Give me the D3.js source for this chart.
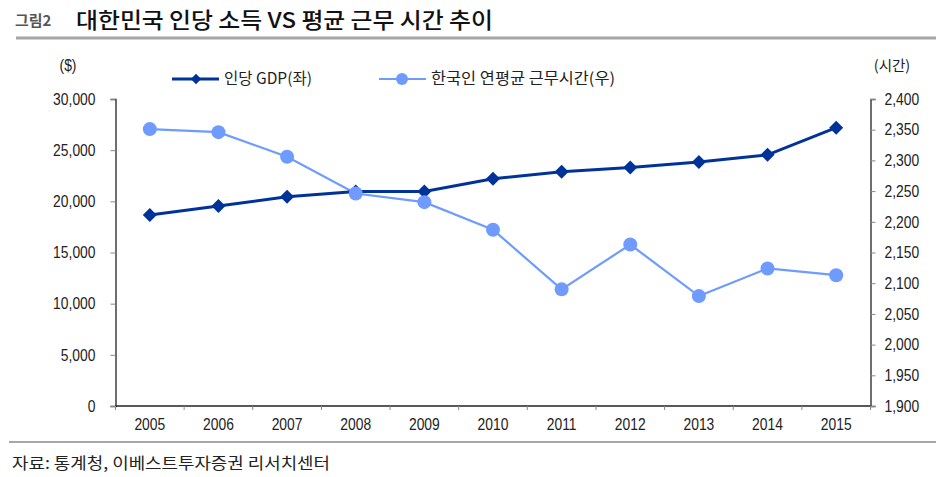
<!DOCTYPE html>
<html><head><meta charset="utf-8">
<script src="https://cdn.jsdelivr.net/npm/d3@7"></script>
<style>
body{margin:0;background:#fff;}
svg{display:block;}
text{font-family:"Liberation Sans",Arial,sans-serif;fill:#222;}
.kr{font-family:"Noto Sans CJK KR","Liberation Sans",sans-serif;}
</style></head>
<body>
<script>
const years = ["2005","2006","2007","2008","2009","2010","2011","2012","2013","2014","2015"];
const gdp = [18675,19550,20450,20950,20960,22200,22900,23300,23850,24550,27200];
const hours = [2351,2346,2306,2246,2232,2187,2090,2163,2079,2124,2113];
const leftTicks = [0,5000,10000,15000,20000,25000,30000];
const rightTicks = [1900,1950,2000,2050,2100,2150,2200,2250,2300,2350,2400];
const titleLabel = "그림2";
const titleText = "대한민국 인당 소득 VS 평균 근무 시간 추이";
const seriesNames = ["인당 GDP(좌)","한국인 연평균 근무시간(우)"];
const sourceText = "자료: 통계청, 이베스트투자증권 리서치센터";

const W=936,H=477;
const svg=d3.select("body").append("svg").attr("width",W).attr("height",H);
const m={l:115.5,r:870.5,t:99,b:406};
const darkC="#003399", lightC="#6F9BFF";
const NUMFS=16.5, SQ=0.84;
function condense(sel){
  sel.each(function(){const w=this.getComputedTextLength();
    d3.select(this).attr("textLength",w*SQ).attr("lengthAdjust","spacingAndGlyphs");});
}

// title
svg.append("text").attr("class","kr").attr("x",15).attr("y",26).attr("font-size",15).attr("font-weight","bold").style("fill","#555").text(titleLabel);
svg.append("text").attr("class","kr").attr("x",76).attr("y",28).attr("font-size",22).attr("font-weight",500)
 .attr("textLength",417).attr("lengthAdjust","spacingAndGlyphs").style("fill","#111").text(titleText);
svg.append("line").attr("x1",16).attr("x2",W).attr("y1",38).attr("y2",38).attr("stroke","#a6a6a6").attr("stroke-width",3);

const x=d3.scaleBand().domain(years).range([m.l,m.r]);
const yL=d3.scaleLinear().domain([0,30000]).range([m.b,m.t]);
const yR=d3.scaleLinear().domain([1900,2400]).range([m.b,m.t]);
const fmt=d3.format(",");

// left axis
const gL=svg.append("g").attr("transform",`translate(${m.l},0)`)
 .call(d3.axisLeft(yL).tickValues(leftTicks).tickFormat(fmt).tickSize(5).tickPadding(15));
gL.select(".domain").attr("stroke","#222").attr("stroke-width",1.3);
gL.selectAll(".tick line").attr("stroke","#888");
gL.selectAll("text").attr("font-size",NUMFS).style("font-family",'"Liberation Sans",Arial,sans-serif').style("fill","#222").call(condense);

// right axis
const gR=svg.append("g").attr("transform",`translate(${m.r},0)`)
 .call(d3.axisRight(yR).tickValues(rightTicks).tickFormat(fmt).tickSize(5).tickPadding(9));
gR.select(".domain").attr("stroke","#222").attr("stroke-width",1.3);
gR.selectAll(".tick line").attr("stroke","#888");
gR.selectAll("text").attr("font-size",NUMFS).style("font-family",'"Liberation Sans",Arial,sans-serif').style("fill","#222").call(condense);

// bottom axis: ticks at category boundaries
const gB=svg.append("g").attr("transform",`translate(0,${m.b})`);
gB.append("line").attr("x1",m.l).attr("x2",m.r).attr("y1",0).attr("y2",0).attr("stroke","#222").attr("stroke-width",1.3);
const bounds=years.map(d=>x(d)).concat([m.r]);
gB.selectAll(".bt").data(bounds).join("line").attr("x1",d=>d).attr("x2",d=>d).attr("y1",0).attr("y2",4).attr("stroke","#888");
gB.selectAll(".lab").data(years).join("text").attr("x",d=>x(d)+x.bandwidth()/2).attr("y",24)
 .attr("text-anchor","middle").attr("font-size",NUMFS).text(d=>d).call(condense);

// unit labels
svg.append("text").attr("x",68).attr("y",71).attr("text-anchor","middle").attr("font-size",NUMFS).text("($)").call(condense);
svg.append("text").attr("class","kr").attr("x",892).attr("y",71).attr("text-anchor","middle").attr("font-size",14.5).text("(시간)");

const cx=d=>x(d)+x.bandwidth()/2;
// hours line (light)
svg.append("path").datum(hours).attr("fill","none").attr("stroke",lightC).attr("stroke-width",2.2)
 .attr("d",d3.line().x((d,i)=>cx(years[i])).y(d=>yR(d)));
// gdp line (dark)
svg.append("path").datum(gdp).attr("fill","none").attr("stroke",darkC).attr("stroke-width",3)
 .attr("d",d3.line().x((d,i)=>cx(years[i])).y(d=>yL(d)));
const diamond=d3.symbol().type(d3.symbolDiamond2).size(125);
svg.selectAll(".gm").data(gdp).join("path").attr("d",diamond)
 .attr("transform",(d,i)=>`translate(${cx(years[i])},${yL(d)})`).attr("fill",darkC);
svg.selectAll(".hm").data(hours).join("circle").attr("cx",(d,i)=>cx(years[i])).attr("cy",d=>yR(d)).attr("r",7).attr("fill",lightC);

// legend
const ly=79;
svg.append("line").attr("x1",172).attr("x2",219).attr("y1",ly).attr("y2",ly).attr("stroke",darkC).attr("stroke-width",3);
svg.append("path").attr("d",d3.symbol().type(d3.symbolDiamond2).size(68)).attr("transform",`translate(196,${ly})`).attr("fill",darkC);
svg.append("text").attr("class","kr").attr("x",224).attr("y",ly+5).attr("font-size",15.5).text(seriesNames[0]);
svg.append("line").attr("x1",379).attr("x2",426).attr("y1",ly).attr("y2",ly).attr("stroke",lightC).attr("stroke-width",2.2);
svg.append("circle").attr("cx",402).attr("cy",ly).attr("r",6).attr("fill",lightC);
svg.append("text").attr("class","kr").attr("x",431).attr("y",ly+5).attr("font-size",15.5)
 .attr("textLength",184).attr("lengthAdjust","spacingAndGlyphs").text(seriesNames[1]);

// bottom rule & source
svg.append("line").attr("x1",9).attr("x2",W).attr("y1",442).attr("y2",442).attr("stroke","#a6a6a6").attr("stroke-width",2);
svg.append("text").attr("class","kr").attr("x",12).attr("y",469).attr("font-size",16)
 .attr("textLength",318).attr("lengthAdjust","spacingAndGlyphs").style("fill","#222").text(sourceText);
</script>
</body></html>
